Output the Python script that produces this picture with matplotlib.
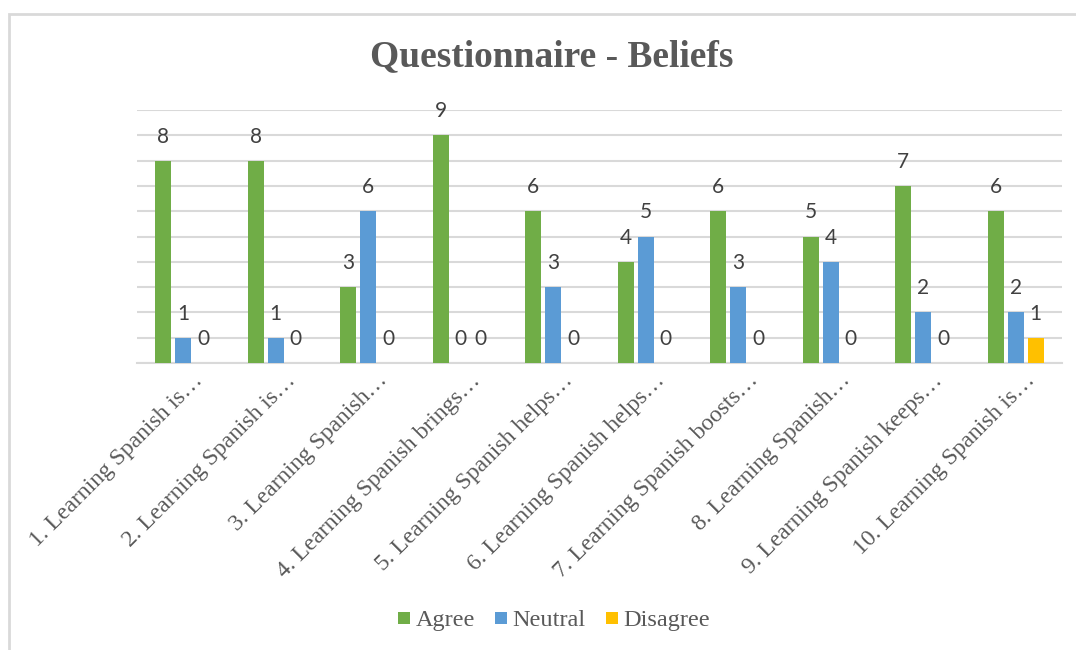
import matplotlib.pyplot as plt
from matplotlib.patches import Rectangle
from matplotlib.lines import Line2D
from matplotlib.transforms import ScaledTranslation
import numpy as np

# data
categories = [
    "1. Learning Spanish is…",
    "2. Learning Spanish is…",
    "3. Learning Spanish…",
    "4. Learning Spanish brings…",
    "5. Learning Spanish helps…",
    "6. Learning Spanish helps…",
    "7. Learning Spanish boosts…",
    "8. Learning Spanish…",
    "9. Learning Spanish keeps…",
    "10. Learning Spanish is…",
]
agree = [8, 8, 3, 9, 6, 4, 6, 5, 7, 6]
neutral = [1, 1, 6, 0, 3, 5, 3, 4, 2, 2]
disagree = [0, 0, 0, 0, 0, 0, 0, 0, 0, 1]

series = [("Agree", agree, "#70AD47"),
          ("Neutral", neutral, "#5B9BD5"),
          ("Disagree", disagree, "#FFC000")]

text_gray = "#595959"
serif = "Liberation Serif"

fig = plt.figure(figsize=(10.76, 6.5), dpi=100)
fig.patch.set_facecolor("white")

# chart-area frame (light grey, runs off right and bottom edges)
fig.patches.append(Rectangle((9 / 1076, -0.05), 1.2, 1 - 14 / 650 + 0.05,
                             transform=fig.transFigure, fill=False,
                             edgecolor="#D9D9D9", linewidth=2, zorder=0))

ax = fig.add_axes([137 / 1076, 1 - 363 / 650, (1062 - 137) / 1076, (363 - 110) / 650])

x = np.arange(len(categories))
width = 0.17
step = 0.216

for i, (name, vals, color) in enumerate(series):
    pos = x + (i - 1) * step
    ax.bar(pos, vals, width, color=color, label=name, zorder=3)
    for xp, v in zip(pos, vals):
        ax.annotate(str(v), (xp, v), xytext=(0, 13), textcoords="offset points",
                    ha="center", va="baseline", fontsize=15,
                    family="Lato", color="#404040")

ax.set_xlim(-0.5, len(categories) - 0.5)
ax.set_ylim(0, 10)
ax.set_yticks(np.arange(0, 11, 1))
ax.yaxis.grid(True, color="#D9D9D9", linewidth=1.5, zorder=0)
ax.set_axisbelow(True)
ax.tick_params(axis="y", left=False, labelleft=False)
ax.tick_params(axis="x", length=0, pad=5)
for s in ["top", "right", "left"]:
    ax.spines[s].set_visible(False)
ax.spines["bottom"].set_color("#D9D9D9")
ax.spines["bottom"].set_linewidth(1.5)

ax.set_xticks(x)
ax.set_xticklabels(categories, rotation=45, ha="right", rotation_mode="anchor",
                   fontsize=17, family=serif, color=text_gray)
# nudge the slanted labels a little to the right, as in the original
shift = ScaledTranslation(9 / 100, 0, fig.dpi_scale_trans)
for lbl in ax.get_xticklabels():
    lbl.set_transform(lbl.get_transform() + shift)

fig.text(552 / 1076, 1 - 57 / 650, "Questionnaire - Beliefs", ha="center", va="center",
         fontsize=27, fontweight="bold", family=serif, color=text_gray)

# square legend keys
handles = [Line2D([], [], marker="s", linestyle="", markersize=8,
                  markerfacecolor=c, markeredgewidth=0) for _, _, c in series]
labels = [name for name, _, _ in series]
fig.legend(handles, labels, loc="center", bbox_to_anchor=(554 / 1076, 1 - 620 / 650),
           ncol=3, frameon=False, prop={"family": serif, "size": 17.5},
           labelcolor=text_gray, handlelength=0.45, handletextpad=0.25,
           columnspacing=0.85)

fig.savefig("out.png", dpi=100)
